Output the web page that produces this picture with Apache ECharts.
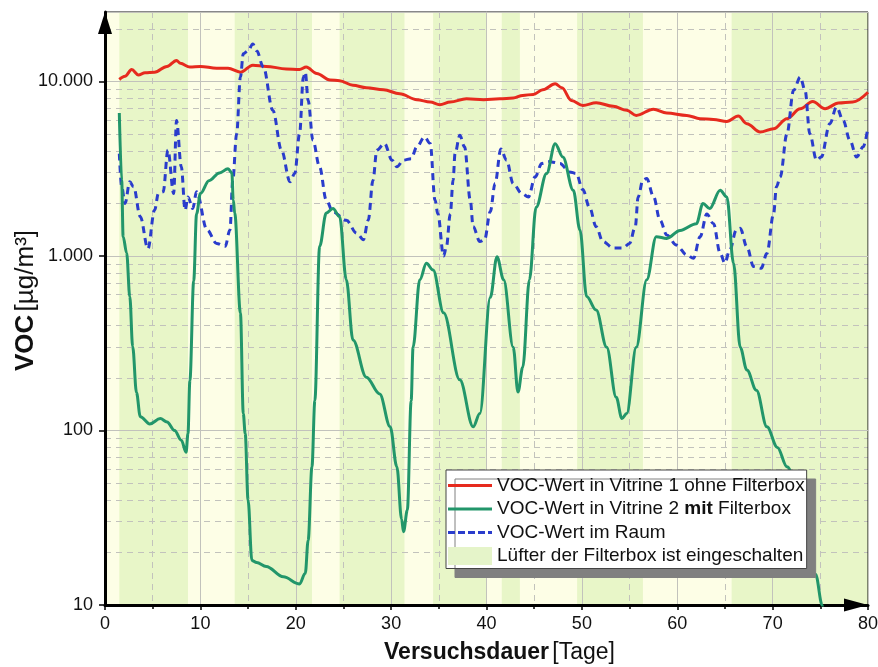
<!DOCTYPE html>
<html><head><meta charset="utf-8">
<script src="https://cdn.jsdelivr.net/npm/echarts@6/dist/echarts.min.js"></script>
<style>html,body{margin:0;padding:0;background:#fff}#c{width:878px;height:667px}</style>
</head><body><div id="c"></div>
<script>
// ---------- data ----------
const seriesNames = [
  'VOC-Wert in Vitrine 1 ohne Filterbox',
  'VOC-Wert in Vitrine 2 mit Filterbox',
  'VOC-Wert im Raum',
  'Lüfter der Filterbox ist eingeschalten'
];
const redDays = [1.5,2.1,2.8,3.5,4.2,5.2,6.5,7.5,7.9,8.9,10,11.7,12.9,14.2,15.5,16.9,19.0,20.4,21.1,22.2,23.6,24.6,26.0,27.4,29.2,30.9,32.7,34.1,35.1,36.2,37.9,39.7,41.4,42.8,43.8,44.9,45.9,47.2,47.9,48.9,50.1,51.5,53.3,54.7,55.7,57.5,58.9,61.0,62.4,63.8,65.2,66.4,67.3,68.7,70.1,71.5,72.9,74.2,75.5,76.9,78.4,80];
const redVoc = [10260,10700,11700,10900,11200,11300,12200,13200,12700,12100,12200,11900,11900,11300,12400,12200,11800,11700,12100,11100,10200,10100,9500,9200,8960,8500,7860,7620,7360,7620,7960,7860,7960,8030,8320,8430,8960,9700,9200,7790,7290,7550,7200,6830,6390,6940,6590,6390,6120,6060,5900,6330,5730,5130,5360,6120,6980,7680,6980,7520,7620,8670];

const greenDays = [1.5,1.75,1.9,2.27,2.6,2.9,3.3,3.7,4.7,5.8,6.5,7.3,8.0,8.5,8.7,8.9,9.3,9.6,10.0,10.9,12.0,12.9,13.3,13.45,13.6,14.2,14.5,14.7,15.0,15.4,15.9,16.9,18.7,20.4,21.0,21.3,21.7,22.0,22.5,23.2,23.9,24.6,25.3,26.0,27.4,28.8,29.9,30.6,31.1,31.3,31.7,32.1,32.3,33.0,33.7,34.4,35.5,37.2,38.6,39.3,40.4,41.1,41.8,42.8,43.3,43.8,44.5,45.2,46.3,47.2,48.0,49.1,49.8,50.5,51.5,52.6,53.6,54.2,54.7,55.7,56.8,57.8,58.9,60.3,62.0,62.7,63.4,64.5,65.2,65.9,66.6,67.3,68.3,69.4,70.5,71.5,74.5,75.2,75.5];
const greenVoc = [6590,2720,1290,1040,585,303,165,120,109,117,112,100,88,75,96,193,720,1740,2280,2700,2990,3160,2990,2090,1760,472,125,96,40,18,17.5,16.6,14.5,13.2,15.2,23.5,62,148,1135,1760,1870,1680,730,330,202,162,105,62,31,26.3,35,148,300,730,908,830,472,195,105,125,580,990,730,300,166,230,730,1900,2970,4400,3690,2380,1410,585,490,300,155,117,125,300,730,1290,1260,1400,1530,2000,1870,2380,2180,910,300,222,170,105,80,62,15,10,8];

const blueDays = [1.5,1.75,2.1,2.6,3.0,3.7,4.5,5.2,5.6,6.1,6.6,7.2,7.5,8.0,8.4,8.7,9.2,9.6,10.7,11.7,12.6,13.1,13.4,13.8,14.2,14.5,15.0,15.5,15.9,16.6,17.6,18.5,19.4,19.9,20.4,20.8,21.0,21.3,21.8,22.5,23.2,23.9,25.3,26.4,27.1,27.6,28.1,28.5,29.3,30.1,30.6,31.3,32.1,32.7,33.5,34.1,34.6,34.9,35.5,35.8,36.2,36.5,36.7,37.2,37.7,38.3,38.6,39.3,39.8,40.4,40.9,41.5,42.1,42.8,43.7,44.4,45.1,45.8,46.6,47.7,48.7,49.4,50.1,50.8,51.5,52.2,53.3,54.3,55.0,55.6,55.9,56.4,56.8,57.5,58.2,58.9,59.9,61.0,61.7,62.4,63.1,63.8,64.5,65.0,65.5,66.2,66.6,67.3,68.0,68.8,69.4,70.1,70.4,70.8,71.5,72.2,72.9,73.4,73.9,74.6,75.1,76.0,76.7,77.4,78.1,78.8,79.5,80];
const blueVoc = [3860,2490,2000,2660,2490,1680,1100,1830,2280,2330,4040,2280,5980,3240,1830,2180,1870,2330,1410,1180,1135,1410,2720,5010,10600,14400,15000,16400,15000,12100,6820,4040,2660,2970,5010,10600,11300,7780,4600,3240,2090,1790,1600,1350,1240,1600,2720,4040,4410,3540,3240,3540,3610,4220,4810,4410,2090,1740,1000,1130,1740,2720,3860,4910,4220,2090,1470,1210,1240,1800,2600,4100,3540,2600,2280,2180,2840,3390,3470,3390,3030,2970,2400,1900,1470,1210,1110,1110,1180,1470,2180,2720,2780,2200,1600,1320,1155,1014,970,1290,1740,1530,1035,910,1080,1410,1440,1130,870,850,1035,1740,2490,2840,5010,8890,10600,8890,5010,3540,3690,5730,7130,5980,4600,3690,4220,5480];

// fan-on periods (days)
const fanOnStart = [1.5,13.6,24.6,34.4,41.6,49.5,65.7];
const fanOnEnd   = [8.7,21.7,31.4,40.0,43.5,56.4,80];

const xTickLabels = ['0','10','20','30','40','50','60','70','80'];
const yTickValues = [10,100,1000,10000];
const yTickLabels = ['10','100','1.000','10.000'];
const yMinorValues = [20,30,40,50,60,70,80,90,200,300,400,500,600,700,800,900,2000,3000,4000,5000,6000,7000,8000,9000,20000];

// ---------- chart ----------
const FONT = '"Liberation Sans", Arial, sans-serif';
const zip = (a, b) => a.map((v, i) => [v, b[i]]);
const chart = echarts.init(document.getElementById('c'), null, {renderer: 'canvas'});

const gridLine = '#c2c2bc';
chart.setOption({
  animation: false,
  backgroundColor: '#ffffff',
  grid: {left: 105, right: 10, top: 12, bottom: 62, show: true, backgroundColor: 'transparent',
         borderColor: '#111', borderWidth: 1, outerBoundsMode: 'none', containLabel: false},
  legend: {
    orient: 'vertical', left: 446, top: 470, selectedMode: false, z: 20,
    backgroundColor: '#fff', borderColor: '#444', borderWidth: 1,
    shadowColor: '#808080', shadowBlur: 0, shadowOffsetX: 9, shadowOffsetY: 9,
    padding: [6, 2, 3, 2], itemWidth: 44, itemHeight: 18, itemGap: 4.5,
    textStyle: {fontFamily: FONT, fontSize: 19, color: '#111', lineHeight: 19,
      rich: {b: {fontFamily: FONT, fontSize: 19, fontWeight: 'bold', color: '#111', lineHeight: 19}}},
    formatter: n => n === seriesNames[1] ? 'VOC-Wert in Vitrine 2 {b|mit} Filterbox' : n,
    data: [
      {name: seriesNames[0], icon: 'path://M0,0H44V3H0Z'},
      {name: seriesNames[1], icon: 'path://M0,0H44V3H0Z'},
      {name: seriesNames[2], icon: 'path://M0,0H7V3H0Z M10,0H17V3H10Z M20,0H27V3H20Z M30,0H37V3H30Z M40,0H44V3H40Z'},
      {name: seriesNames[3], icon: 'rect'}
    ]
  },
  xAxis: {
    type: 'value', min: 0, max: 80, interval: 10,
    name: '{b|Versuchsdauer} {n|[Tage]}', nameLocation: 'middle', nameGap: 36, nameMoveOverlap: false,
    nameTextStyle: {padding: [0, 0, 0, 26], rich: {
      b: {fontFamily: FONT, fontSize: 23, fontWeight: 'bold', color: '#111'},
      n: {fontFamily: FONT, fontSize: 23, color: '#111'}}},
    axisLine: {show: true, lineStyle: {color: '#000', width: 3}, symbol: ['none', 'triangle'], symbolSize: [13, 24], symbolOffset: [0, -12]},
    axisTick: {show: true, inside: false, length: 5, lineStyle: {color: '#000', width: 1.5}},
    minorTick: {show: true, splitNumber: 2, length: 4, lineStyle: {color: '#000', width: 1.5}},
    axisLabel: {fontFamily: FONT, fontSize: 18, color: '#111', margin: 10,
      formatter: v => xTickLabels[Math.round(v / 10)] || ''},
    splitLine: {show: true, lineStyle: {color: gridLine, width: 1}},
    minorSplitLine: {show: true, lineStyle: {color: gridLine, width: 1, type: [6, 5]}}
  },
  yAxis: {
    type: 'log', logBase: 10, min: 10, max: 25000,
    name: '{b|VOC} {n|[µg/m³]}', nameLocation: 'middle', nameGap: 66, nameRotate: 90, nameMoveOverlap: false,
    nameTextStyle: {padding: [0, 0, 0, 16], rich: {
      b: {fontFamily: FONT, fontSize: 26, fontWeight: 'bold', color: '#111'},
      n: {fontFamily: FONT, fontSize: 26, color: '#111'}}},
    axisLine: {show: true, lineStyle: {color: '#000', width: 3}, symbol: ['none', 'triangle'], symbolSize: [14, 22], symbolOffset: [0, -11]},
    axisTick: {show: true, inside: false, length: 6, lineStyle: {color: '#000', width: 1.5}},
    axisLabel: {fontFamily: FONT, fontSize: 18, color: '#111', margin: 12, showMaxLabel: false,
      formatter: v => { const i = yTickValues.findIndex(t => Math.abs(t - v) / t < 1e-6); return i >= 0 ? yTickLabels[i] : ''; }},
    splitLine: {show: true, lineStyle: {color: gridLine, width: 1}}
  },
  series: [
    {
      name: 'pale', type: 'line', data: [], silent: true, z: -3,
      markArea: {silent: true, z: -3, itemStyle: {color: '#fdfee6'}, data: [[{xAxis: 0}, {xAxis: 80}]]}
    },
    {
      name: seriesNames[3], type: 'line', data: [], silent: true, color: '#e5f4c9', z: -2,
      markArea: {silent: true, z: -2, itemStyle: {color: '#e8f6c8'},
        data: fanOnStart.map((s, i) => [{xAxis: s}, {xAxis: fanOnEnd[i]}])}
    },
    {
      name: 'minor', type: 'line', data: [], silent: true, z: -1,
      markLine: {silent: true, z: -1, symbol: ['none', 'none'], label: {show: false},
        lineStyle: {color: gridLine, width: 1, type: [6, 5]},
        data: yMinorValues.map(v => ({yAxis: v}))}
    },
    {
      name: seriesNames[0], type: 'line', data: zip(redDays, redVoc), color: '#e62a1e',
      showSymbol: false, symbol: 'none', smooth: 0.35, smoothMonotone: 'x', z: 3,
      lineStyle: {width: 3, color: '#e62a1e'}
    },
    {
      name: seriesNames[1], type: 'line', data: zip(greenDays, greenVoc), color: '#22966a',
      showSymbol: false, symbol: 'none', smooth: 0.35, smoothMonotone: 'x', z: 4,
      lineStyle: {width: 3, color: '#22966a'}
    },
    {
      name: seriesNames[2], type: 'line', data: zip(blueDays, blueVoc), color: '#2a3ccc',
      showSymbol: false, symbol: 'none', smooth: 0.35, smoothMonotone: 'x', z: 3,
      lineStyle: {width: 3, color: '#2a3ccc', type: [7, 5]}
    }
  ]
});
</script>
</body></html>
